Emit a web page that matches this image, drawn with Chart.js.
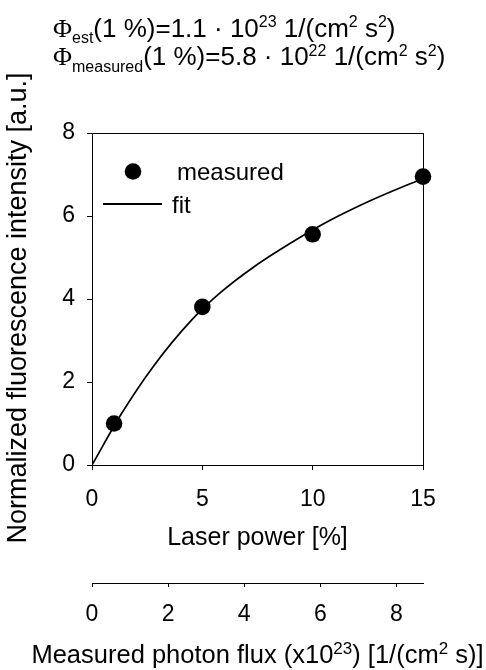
<!DOCTYPE html>
<html>
<head>
<meta charset="utf-8">
<script src="https://cdn.jsdelivr.net/npm/chart.js@4.4.0/dist/chart.umd.min.js"></script>
<style>
  html, body { margin: 0; padding: 0; background: #fff; }
</style>
</head>
<body>
<canvas id="chart" width="486" height="670"></canvas>
<script>
// measured points (laser power in %, normalized intensity)
const laserPower = [1, 5, 10, 15];
const measured = [1.0, 3.81, 5.56, 6.95];

// fit curve
const fitPower = [0, 1.34, 2.77, 4.51, 5.79, 7.30, 9.23, 10.77, 12.58, 14.39, 15];
const fitIntensity = [0, 1.24, 2.37, 3.49, 4.14, 4.76, 5.42, 5.89, 6.36, 6.77, 6.90];

// axes
const powerTicks = [0, 5, 10, 15];
const intensityTicks = [0, 2, 4, 6, 8];
const fluxTicks = [0, 2, 4, 6, 8];
const fluxMax = 8.7; // flux at 15 % laser power

// texts with sub/superscripts: [text, kind]
const headerLines = [
  [['Φ', 'sym'], ['est', 'sub'], ['(1 %)=1.1 · 10', 'main'], ['23', 'sup'], [' 1/(cm', 'main'], ['2', 'sup'], [' s', 'main'], ['2', 'sup'], [')', 'main']],
  [['Φ', 'sym'], ['measured', 'sub'], ['(1 %)=5.8 · 10', 'main'], ['22', 'sup'], [' 1/(cm', 'main'], ['2', 'sup'], [' s', 'main'], ['2', 'sup'], [')', 'main']]
];
const fluxTitle = [['Measured photon flux (x10', 'main'], ['23', 'sup'], [') [1/(cm', 'main'], ['2', 'sup'], [' s)]', 'main']];
const intensityTitle = 'Normalized fluorescence intensity [a.u.]';

const FONT = '"Liberation Sans", Arial, sans-serif';
Chart.defaults.font.family = FONT;
Chart.defaults.color = '#000';

// draw a run of text pieces, returns total width
function richText(ctx, pieces, x, y, fonts, measureOnly) {
  let w = 0;
  pieces.forEach(([txt, kind]) => {
    ctx.font = fonts[kind][0];
    if (!measureOnly) ctx.fillText(txt, x + w, y + fonts[kind][1]);
    w += ctx.measureText(txt).width;
  });
  return w;
}

const textPlugin = {
  id: 'texts',
  afterDraw(chart) {
    const ctx = chart.ctx;
    const area = chart.chartArea;
    ctx.save();
    ctx.fillStyle = '#000';
    ctx.textBaseline = 'alphabetic';
    ctx.textAlign = 'left';

    // header
    const hFonts = {
      main: ['26px ' + FONT, 0],
      sym: ['26px "Liberation Serif", serif', 0],
      sub: ['16px ' + FONT, 6.5],
      sup: ['16px ' + FONT, -9.5]
    };
    [36.5, 65].forEach((base, i) => richText(ctx, headerLines[i], 53, base, hFonts));

    // second x axis title
    const tFonts = { main: ['25.5px ' + FONT, 0], sup: ['17px ' + FONT, -9.5] };
    const tw = richText(ctx, fluxTitle, 0, 0, tFonts, true);
    richText(ctx, fluxTitle, (area.left + area.right) / 2 - tw / 2, 663, tFonts);

    // y axis title
    ctx.font = '27px ' + FONT;
    ctx.translate(18.5, 308);
    ctx.rotate(-Math.PI / 2);
    ctx.textAlign = 'center';
    ctx.textBaseline = 'middle';
    ctx.fillText(intensityTitle, 0, 0);
    ctx.restore();

    // legend inside the plot
    ctx.save();
    ctx.fillStyle = '#000';
    ctx.strokeStyle = '#000';
    ctx.beginPath();
    ctx.arc(133, 171.5, 8.3, 0, Math.PI * 2);
    ctx.fill();
    ctx.lineWidth = 2;
    ctx.beginPath();
    ctx.moveTo(103, 204);
    ctx.lineTo(162, 204);
    ctx.stroke();
    ctx.font = '24px ' + FONT;
    ctx.textBaseline = 'alphabetic';
    ctx.fillText('measured', 177, 180);
    ctx.fillText('fit', 172, 213);
    ctx.restore();
  }
};

const axisLine = { display: true, color: '#000', width: 1 };
const tickGrid = (len) => ({ display: true, drawOnChartArea: false, drawTicks: true, tickLength: len, color: '#000', tickColor: '#000' });

new Chart(document.getElementById('chart'), {
  type: 'scatter',
  data: {
    datasets: [
      {
        label: 'measured',
        data: laserPower.map((x, i) => ({ x: x, y: measured[i] })),
        pointRadius: 8.3,
        pointBackgroundColor: '#000',
        pointBorderWidth: 0,
        clip: false
      },
      {
        label: 'fit',
        data: fitPower.map((x, i) => ({ x: x, y: fitIntensity[i] })),
        showLine: true,
        cubicInterpolationMode: 'monotone',
        borderColor: '#000',
        borderWidth: 1.7,
        pointRadius: 0
      }
    ]
  },
  options: {
    responsive: false,
    animation: false,
    devicePixelRatio: 1,
    layout: { padding: { top: 133, right: 63, bottom: 0, left: 0 } },
    plugins: { legend: { display: false }, tooltip: { enabled: false } },
    scales: {
      x: {
        type: 'linear', position: 'bottom', weight: 0,
        min: 0, max: 15,
        afterBuildTicks: s => { s.ticks = powerTicks.map(v => ({ value: v })); },
        afterFit: s => { s.height = 118; },
        ticks: { font: { size: 23 }, padding: 16, maxRotation: 0, autoSkip: false },
        grid: tickGrid(5),
        border: axisLine,
        title: { display: true, text: 'Laser power [%]', font: { size: 25 }, padding: { top: 0, bottom: 30 } }
      },
      x2: {
        type: 'linear', position: 'bottom', weight: 1,
        min: 0, max: fluxMax,
        afterBuildTicks: s => { s.ticks = fluxTicks.map(v => ({ value: v })); },
        afterFit: s => { s.height = 87; },
        ticks: { font: { size: 23 }, padding: 14, maxRotation: 0, autoSkip: false },
        grid: tickGrid(4),
        border: axisLine
      },
      y: {
        type: 'linear', position: 'left',
        min: 0, max: 8,
        afterBuildTicks: s => { s.ticks = intensityTicks.map(v => ({ value: v })); },
        afterFit: s => { s.width = 92; },
        ticks: { font: { size: 23 }, padding: 12 },
        grid: tickGrid(5),
        border: axisLine
      },
      xTop: {
        type: 'linear', position: 'top',
        ticks: { display: false },
        grid: { display: false, drawTicks: false, tickLength: 0 },
        border: axisLine,
        afterFit: s => { s.height = 0; }
      },
      yRight: {
        type: 'linear', position: 'right',
        ticks: { display: false },
        grid: { display: false, drawTicks: false, tickLength: 0 },
        border: axisLine,
        afterFit: s => { s.width = 0; }
      }
    }
  },
  plugins: [textPlugin]
});
</script>
</body>
</html>
